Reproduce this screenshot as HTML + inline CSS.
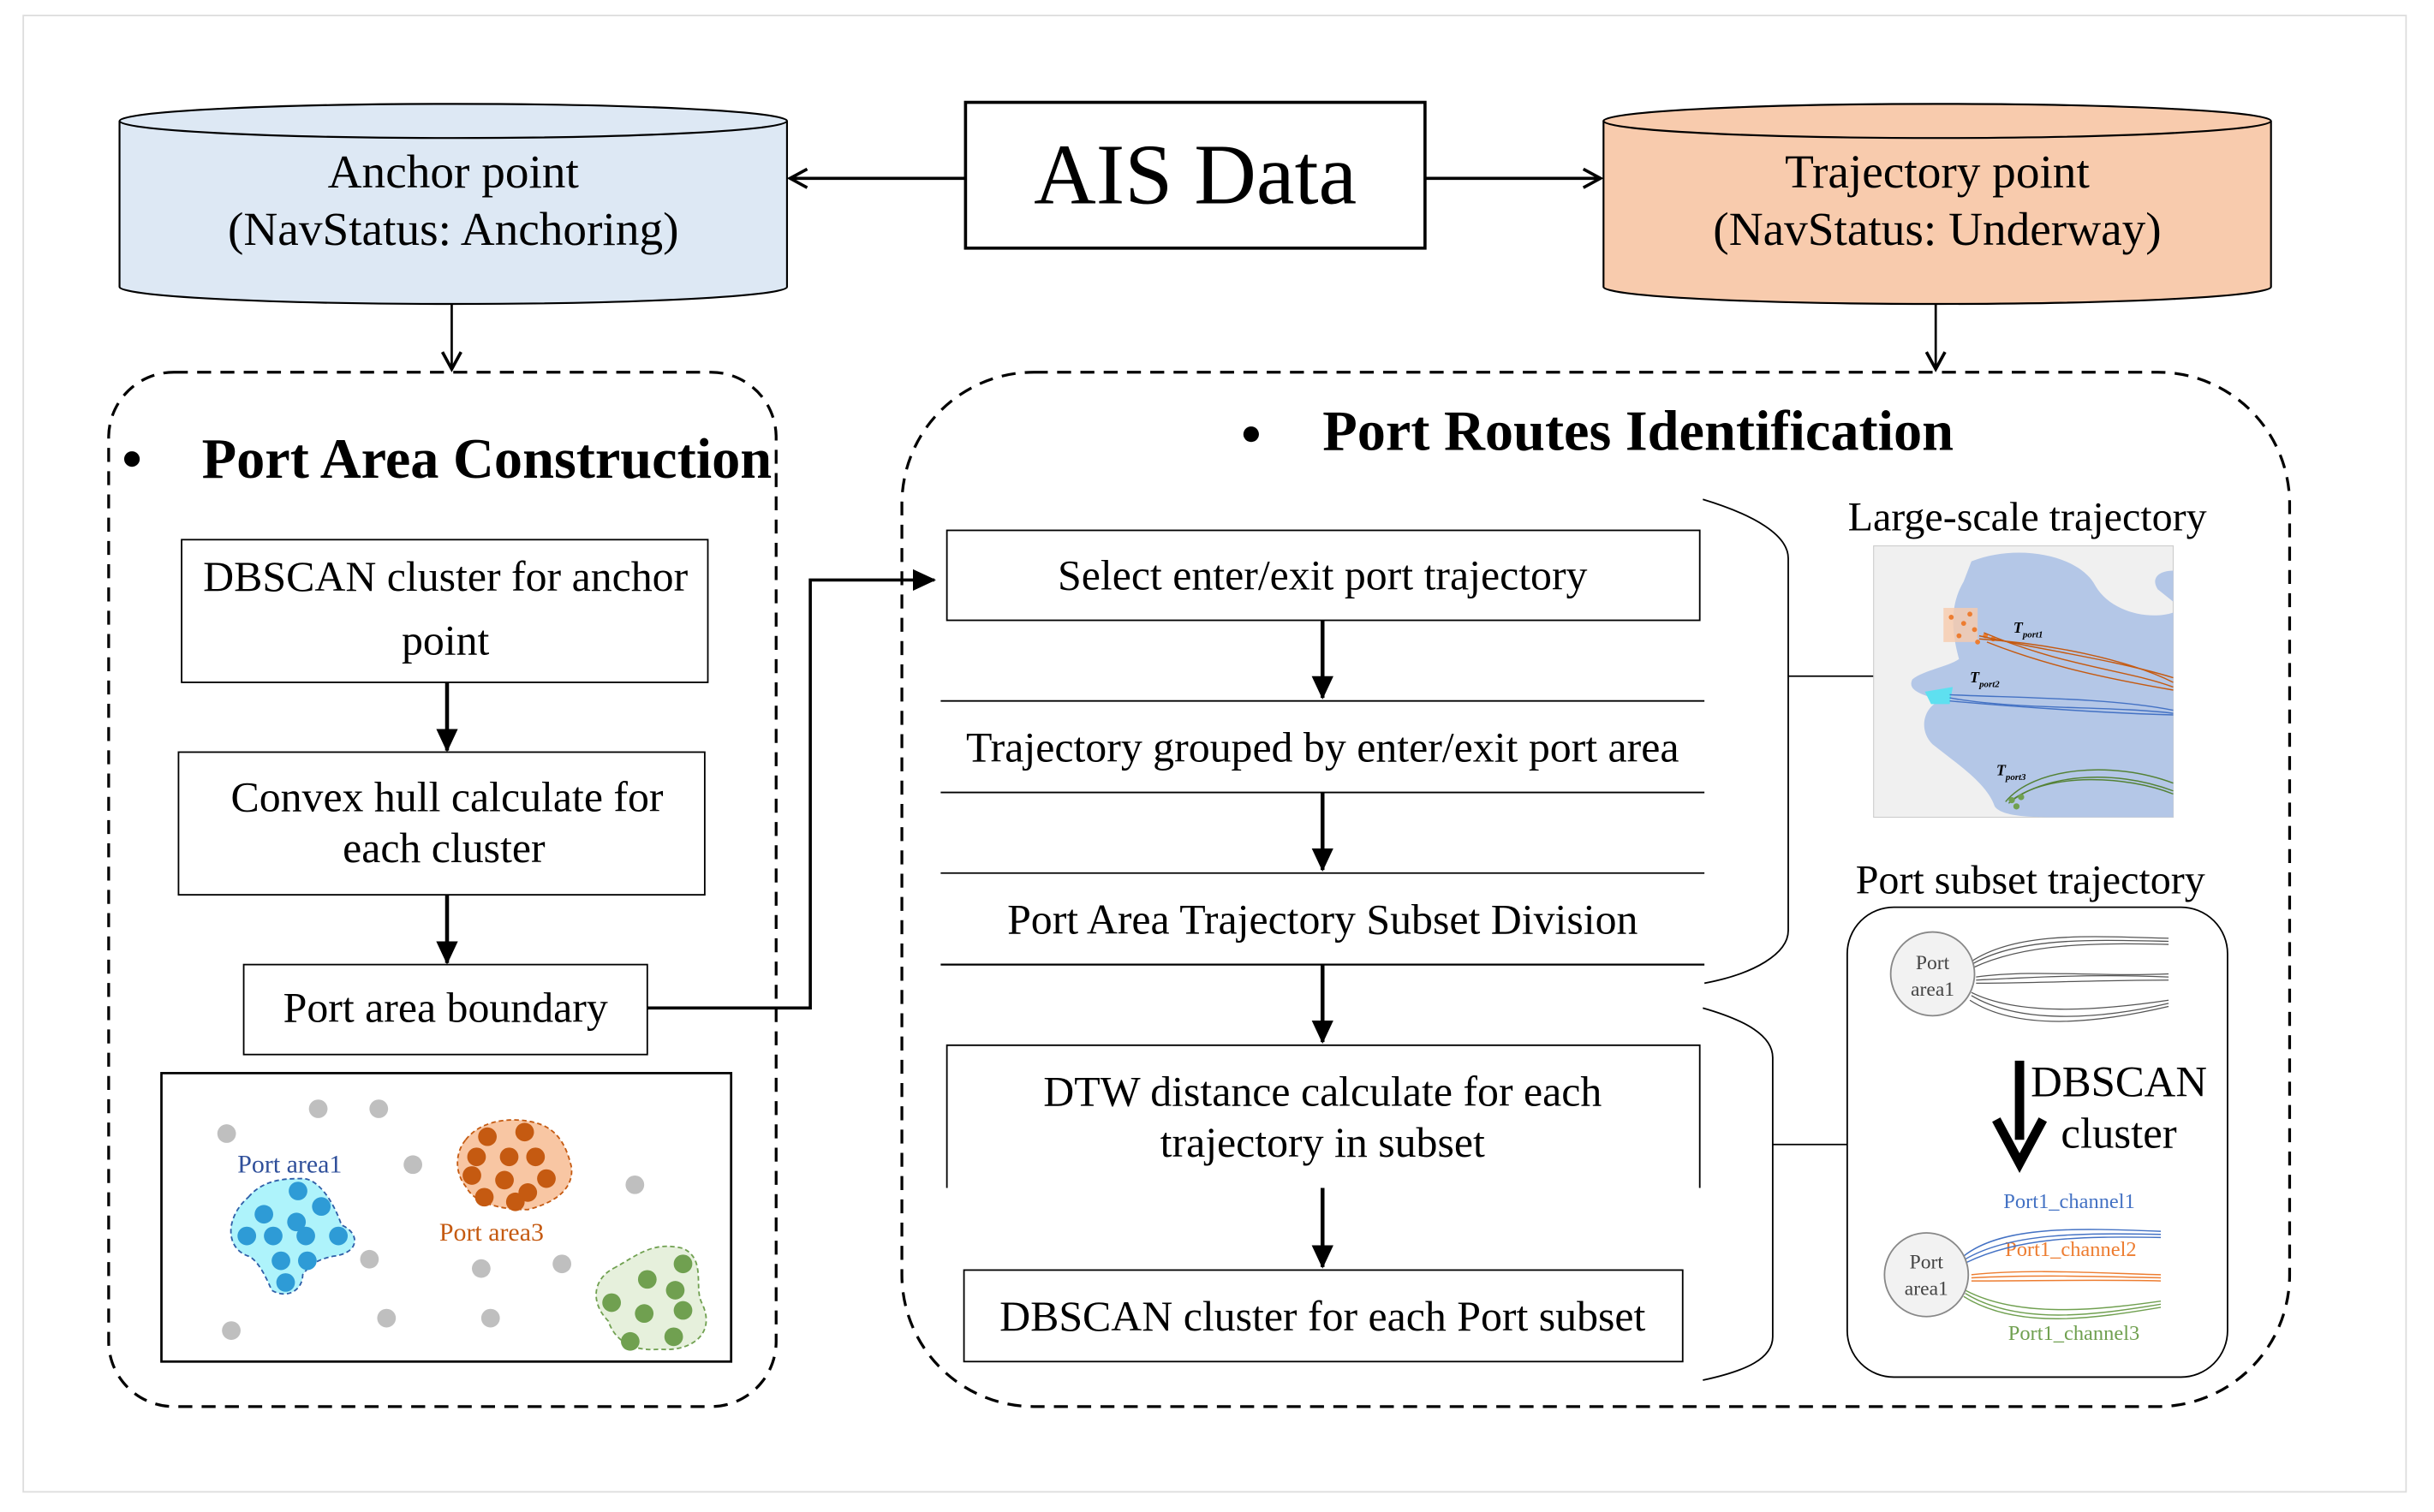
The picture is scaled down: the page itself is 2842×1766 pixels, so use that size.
<!DOCTYPE html>
<html><head><meta charset="utf-8"><style>html,body{margin:0;padding:0;background:#fff}svg{display:block}</style></head>
<body>
<svg width="2842" height="1766" viewBox="0 0 1568 975" preserveAspectRatio="none" xmlns="http://www.w3.org/2000/svg" font-family="Liberation Serif, serif">
<defs>
<marker id="ao" markerWidth="14" markerHeight="14" refX="12" refY="7" orient="auto" markerUnits="userSpaceOnUse"><path d="M1,1 L12,7 L1,13" fill="none" stroke="#000" stroke-width="2"/></marker>
<marker id="af" markerWidth="16" markerHeight="16" refX="14" refY="8" orient="auto" markerUnits="userSpaceOnUse"><path d="M0,1 L15,8 L0,15 Z" fill="#000"/></marker>
</defs>
<rect x="0" y="0" width="1568" height="975" fill="#fff"/>
<rect x="15" y="10" width="1535" height="952" fill="none" stroke="#ddd" stroke-width="1"/>

<path d="M77,78 L77,185 A215,11 0 0 0 507,185 L507,78" fill="#dde8f4" stroke="#000" stroke-width="1.2"/>
<ellipse cx="292" cy="78" rx="215" ry="11" fill="#dde8f4" stroke="#000" stroke-width="1.2"/>
<text x="292" y="121" font-size="30.5" text-anchor="middle">Anchor point</text>
<text x="292" y="158" font-size="30.5" text-anchor="middle">(NavStatus: Anchoring)</text>

<path d="M1033,78 L1033,185 A215,11 0 0 0 1463,185 L1463,78" fill="#f8cbad" stroke="#000" stroke-width="1.2"/>
<ellipse cx="1248" cy="78" rx="215" ry="11" fill="#f8cbad" stroke="#000" stroke-width="1.2"/>
<text x="1248" y="121" font-size="30.5" text-anchor="middle">Trajectory point</text>
<text x="1248" y="158" font-size="30.5" text-anchor="middle">(NavStatus: Underway)</text>

<rect x="622" y="66" width="296" height="94" fill="#fff" stroke="#000" stroke-width="2"/>
<text x="770" y="131" font-size="55.5" text-anchor="middle">AIS Data</text>
<line x1="622" y1="115" x2="509" y2="115" stroke="#000" stroke-width="2" marker-end="url(#ao)"/>
<line x1="918" y1="115" x2="1031" y2="115" stroke="#000" stroke-width="2" marker-end="url(#ao)"/>
<line x1="291" y1="196" x2="291" y2="238" stroke="#000" stroke-width="1.5" marker-end="url(#ao)"/>
<line x1="1247" y1="196" x2="1247" y2="238" stroke="#000" stroke-width="1.5" marker-end="url(#ao)"/>

<rect x="70" y="240" width="430" height="667" rx="42" fill="none" stroke="#000" stroke-width="1.8" stroke-dasharray="9,6"/>
<rect x="581" y="240" width="894" height="667" rx="85" fill="none" stroke="#000" stroke-width="1.8" stroke-dasharray="9,6"/>

<circle cx="85" cy="296" r="5" fill="#000"/>
<text x="130" y="308" font-size="36.6" font-weight="bold">Port Area Construction</text>
<circle cx="806" cy="280" r="5" fill="#000"/>
<text x="852" y="290" font-size="36.6" font-weight="bold">Port Routes Identification</text>

<rect x="117" y="348" width="339" height="92" fill="#fff" stroke="#000" stroke-width="1"/>
<text x="287" y="381" font-size="27.5" text-anchor="middle">DBSCAN cluster for anchor</text>
<text x="287" y="422" font-size="27.5" text-anchor="middle">point</text>
<line x1="288" y1="440" x2="288" y2="484" stroke="#000" stroke-width="2.5" marker-end="url(#af)"/>
<rect x="115" y="485" width="339" height="92" fill="#fff" stroke="#000" stroke-width="1"/>
<text x="288" y="523" font-size="27.5" text-anchor="middle">Convex hull calculate for</text>
<text x="286" y="556" font-size="27.5" text-anchor="middle">each cluster</text>
<line x1="288" y1="577" x2="288" y2="621" stroke="#000" stroke-width="2.5" marker-end="url(#af)"/>
<rect x="157" y="622" width="260" height="58" fill="#fff" stroke="#000" stroke-width="1"/>
<text x="287" y="659" font-size="27.5" text-anchor="middle">Port area boundary</text>
<polyline points="417,650 522,650 522,374 602,374" fill="none" stroke="#000" stroke-width="2" marker-end="url(#af)"/>

<rect x="104" y="692" width="367" height="186" fill="#fff" stroke="#000" stroke-width="1.5"/>
<g fill="#bfbfbf">
<circle cx="146" cy="731" r="6"/><circle cx="205" cy="715" r="6"/><circle cx="244" cy="715" r="6"/><circle cx="266" cy="751" r="6"/><circle cx="409" cy="764" r="6"/><circle cx="238" cy="812" r="6"/><circle cx="310" cy="818" r="6"/><circle cx="362" cy="815" r="6"/><circle cx="149" cy="858" r="6"/><circle cx="249" cy="850" r="6"/><circle cx="316" cy="850" r="6"/>
</g>
<path d="M160,772 C170,760 185,760 195,760 C205,760 215,775 220,790 C232,795 232,808 215,810 C205,812 200,815 195,822 C195,832 185,838 175,832 C170,820 165,812 160,810 C145,805 145,785 160,772 Z" fill="#aef3fb" stroke="#2f5ea8" stroke-dasharray="3,2"/>
<g fill="#2e9bd6"><circle cx="170" cy="783" r="6"/><circle cx="192" cy="768" r="6"/><circle cx="207" cy="778" r="6"/><circle cx="191" cy="788" r="6"/><circle cx="159" cy="797" r="6"/><circle cx="176" cy="797" r="6"/><circle cx="197" cy="797" r="6"/><circle cx="218" cy="797" r="6"/><circle cx="181" cy="813" r="6"/><circle cx="198" cy="813" r="6"/><circle cx="184" cy="827" r="6"/></g>
<text x="153" y="756" font-size="16.5" fill="#2f4f9a">Port area1</text>
<path d="M300,735 C310,722 330,720 345,724 C360,728 365,740 368,752 C370,765 360,775 340,780 C320,780 305,775 300,765 C292,755 294,742 300,735 Z" fill="#f8c6a3" stroke="#c55a11" stroke-dasharray="3,2"/>
<g fill="#c55a11"><circle cx="314" cy="733" r="6"/><circle cx="338" cy="730" r="6"/><circle cx="307" cy="746" r="6"/><circle cx="328" cy="746" r="6"/><circle cx="345" cy="746" r="6"/><circle cx="304" cy="758" r="6"/><circle cx="325" cy="761" r="6"/><circle cx="352" cy="760" r="6"/><circle cx="340" cy="769" r="6"/><circle cx="312" cy="772" r="6"/><circle cx="332" cy="775" r="6"/></g>
<text x="283" y="800" font-size="16.5" fill="#c55a11">Port area3</text>
<path d="M395,818 C410,810 420,800 440,805 C455,812 447,830 452,840 C462,860 445,872 425,870 C405,872 395,862 392,852 C380,840 382,825 395,818 Z" fill="#e6f0dc" stroke="#70a050" stroke-dasharray="3,2"/>
<g fill="#70a050"><circle cx="440" cy="815" r="6"/><circle cx="417" cy="825" r="6"/><circle cx="435" cy="832" r="6"/><circle cx="394" cy="840" r="6"/><circle cx="440" cy="845" r="6"/><circle cx="415" cy="847" r="6"/><circle cx="406" cy="865" r="6"/><circle cx="434" cy="862" r="6"/></g>

<rect x="610" y="342" width="485" height="58" fill="#fff" stroke="#000" stroke-width="1"/>
<text x="852" y="380" font-size="27.5" text-anchor="middle">Select enter/exit port trajectory</text>
<line x1="852" y1="400" x2="852" y2="450" stroke="#000" stroke-width="2.5" marker-end="url(#af)"/>
<line x1="606" y1="452" x2="1098" y2="452" stroke="#000" stroke-width="1"/>
<line x1="606" y1="511" x2="1098" y2="511" stroke="#000" stroke-width="1"/>
<text x="852" y="491" font-size="27.5" text-anchor="middle">Trajectory grouped by enter/exit  port area</text>
<line x1="852" y1="511" x2="852" y2="561" stroke="#000" stroke-width="2.5" marker-end="url(#af)"/>
<line x1="606" y1="563" x2="1098" y2="563" stroke="#000" stroke-width="1"/>
<line x1="606" y1="622" x2="1098" y2="622" stroke="#000" stroke-width="1.2"/>
<text x="852" y="602" font-size="27.5" text-anchor="middle">Port Area Trajectory Subset Division</text>
<line x1="852" y1="622" x2="852" y2="672" stroke="#000" stroke-width="2.5" marker-end="url(#af)"/>
<polyline points="610,766 610,674 1095,674 1095,766" fill="none" stroke="#000" stroke-width="1"/>
<text x="852" y="713" font-size="27.5" text-anchor="middle">DTW distance calculate for each</text>
<text x="852" y="746" font-size="27.5" text-anchor="middle">trajectory in subset</text>
<line x1="852" y1="766" x2="852" y2="817" stroke="#000" stroke-width="2.5" marker-end="url(#af)"/>
<rect x="621" y="819" width="463" height="59" fill="#fff" stroke="#000" stroke-width="1"/>
<text x="852" y="858" font-size="27.5" text-anchor="middle">DBSCAN cluster for each Port subset</text>

<path d="M1097,322 C1130,332 1152,345 1152,360 L1152,600 C1152,615 1130,628 1098,634" fill="none" stroke="#000" stroke-width="1"/>
<line x1="1152" y1="436" x2="1207" y2="436" stroke="#000" stroke-width="1"/>
<path d="M1097,650 C1125,658 1142,668 1142,682 L1142,862 C1142,876 1125,884 1097,890" fill="none" stroke="#000" stroke-width="1"/>
<line x1="1142" y1="738" x2="1190" y2="738" stroke="#000" stroke-width="1"/>

<text x="1306" y="342" font-size="26.5" text-anchor="middle">Large-scale trajectory</text>
<rect x="1207" y="352" width="193" height="175" fill="#f0f0f0" stroke="#ccc" stroke-width="0.6"/>
<path d="M1270,362 C1300,350 1340,358 1350,378 C1360,395 1385,400 1400,395 L1400,527 L1330,527 C1310,527 1290,527 1285,520 C1280,505 1260,492 1245,480 C1235,470 1240,455 1250,452 C1240,448 1228,446 1232,438 C1240,432 1255,430 1262,425 C1258,410 1255,392 1265,375 Z" fill="#b4c7e7"/>
<path d="M1390,380 C1385,372 1392,368 1400,368 L1400,388 Z" fill="#b4c7e7"/>
<rect x="1252" y="392" width="22" height="22" fill="#f8cbad" opacity="0.8"/>
<g fill="#ed7d31"><circle cx="1257" cy="398" r="1.6"/><circle cx="1265" cy="402" r="1.6"/><circle cx="1272" cy="406" r="1.6"/><circle cx="1279" cy="410" r="1.6"/><circle cx="1284" cy="412" r="1.6"/><circle cx="1262" cy="410" r="1.6"/><circle cx="1274" cy="414" r="1.6"/><circle cx="1269" cy="396" r="1.6"/></g>
<g fill="none" stroke="#c55a11" stroke-width="0.8"><path d="M1275,410 C1320,420 1360,425 1400,437"/><path d="M1275,412 C1320,415 1370,425 1400,440"/><path d="M1278,408 C1330,430 1370,432 1400,443"/><path d="M1280,414 C1320,430 1360,438 1400,445"/></g>
<path d="M1240,446 L1258,443 L1256,454 L1244,454 Z" fill="#5ee0f0"/>
<g fill="none" stroke="#4472c4" stroke-width="0.8"><path d="M1256,448 C1300,450 1360,450 1400,458"/><path d="M1256,450 C1300,458 1360,455 1400,460"/><path d="M1256,452 C1300,456 1360,460 1400,461"/></g>
<g fill="none" stroke="#548235" stroke-width="0.8"><path d="M1292,517 C1310,495 1360,490 1400,505"/><path d="M1294,518 C1315,500 1360,495 1400,510"/><path d="M1296,516 C1320,498 1370,500 1400,512"/></g>
<g fill="#70a050"><circle cx="1296" cy="516" r="2"/><circle cx="1302" cy="514" r="2"/><circle cx="1299" cy="520" r="2"/></g>
<text x="1297" y="408" font-size="10" font-style="italic" font-weight="bold">T<tspan font-size="6" dy="3">port1</tspan></text>
<text x="1269" y="440" font-size="10" font-style="italic" font-weight="bold">T<tspan font-size="6" dy="3">port2</tspan></text>
<text x="1286" y="500" font-size="10" font-style="italic" font-weight="bold">T<tspan font-size="6" dy="3">port3</tspan></text>

<text x="1308" y="576" font-size="26.5" text-anchor="middle">Port subset trajectory</text>
<rect x="1190" y="585" width="245" height="303" rx="30" fill="none" stroke="#000" stroke-width="1"/>
<g fill="none" stroke="#555" stroke-width="0.7">
<path d="M1270,620 C1300,600 1350,604 1397,605"/><path d="M1270,622 C1300,604 1350,606 1397,607"/><path d="M1271,624 C1305,608 1350,608 1397,609"/>
<path d="M1273,630 C1310,625 1350,630 1397,628"/><path d="M1273,632 C1310,630 1350,628 1397,630"/><path d="M1273,634 C1310,634 1350,632 1397,632"/>
<path d="M1270,640 C1300,655 1350,652 1397,645"/><path d="M1270,642 C1300,660 1350,658 1397,647"/><path d="M1269,645 C1300,665 1350,660 1397,649"/>
</g>
<circle cx="1245" cy="628" r="27" fill="#f2f2f2" stroke="#888" stroke-width="1"/>
<text x="1245" y="625" font-size="13" text-anchor="middle" fill="#444">Port</text>
<text x="1245" y="642" font-size="13" text-anchor="middle" fill="#444">area1</text>
<line x1="1301" y1="684" x2="1301" y2="735" stroke="#000" stroke-width="6"/>
<path d="M1286,722 L1301,750 L1316,722" fill="none" stroke="#000" stroke-width="6"/>
<text x="1365" y="707" font-size="28" text-anchor="middle">DBSCAN</text>
<text x="1365" y="740" font-size="28" text-anchor="middle">cluster</text>
<text x="1333" y="779" font-size="13.5" text-anchor="middle" fill="#4472c4">Port1_channel1</text>
<text x="1334" y="810" font-size="13.5" text-anchor="middle" fill="#ed7d31">Port1_channel2</text>
<text x="1336" y="864" font-size="13.5" text-anchor="middle" fill="#70a050">Port1_channel3</text>
<g fill="none" stroke-width="0.8">
<path d="M1265,810 C1290,790 1340,792 1392,794" stroke="#4472c4"/><path d="M1266,812 C1295,795 1340,795 1392,796" stroke="#4472c4"/><path d="M1267,814 C1300,798 1340,797 1392,798" stroke="#4472c4"/>
<path d="M1270,822 C1310,818 1350,821 1392,822" stroke="#ed7d31"/><path d="M1270,824 C1310,822 1350,823 1392,824" stroke="#ed7d31"/><path d="M1270,826 C1310,826 1350,825 1392,826" stroke="#ed7d31"/>
<path d="M1266,832 C1300,850 1350,845 1392,839" stroke="#70a050"/><path d="M1266,834 C1300,855 1350,848 1392,841" stroke="#70a050"/><path d="M1265,836 C1300,858 1350,850 1392,843" stroke="#70a050"/>
</g>
<circle cx="1241" cy="822" r="27" fill="#f2f2f2" stroke="#888" stroke-width="1"/>
<text x="1241" y="818" font-size="13" text-anchor="middle" fill="#444">Port</text>
<text x="1241" y="835" font-size="13" text-anchor="middle" fill="#444">area1</text>
</svg>
</body></html>
